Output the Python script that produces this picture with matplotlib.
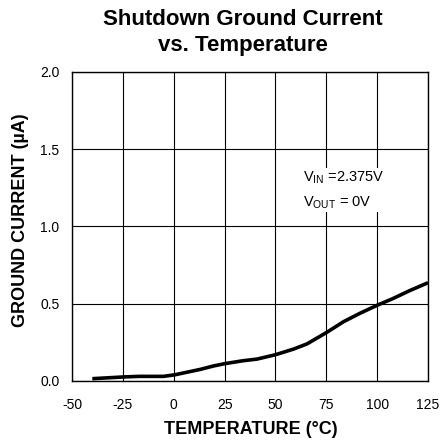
import numpy as np
import matplotlib
matplotlib.use("Agg")
import matplotlib.pyplot as plt

plt.rcParams['font.family'] = ['Liberation Sans', 'DejaVu Sans']

temp = [-40, -25, -17, -5, 0.5, 13, 19.5, 25, 34, 41, 50, 59, 65.5, 75, 83.5, 91.5, 100, 108, 116, 125]
i_gnd = [0.015, 0.026, 0.03, 0.03, 0.04, 0.075, 0.097, 0.112, 0.131, 0.142, 0.17, 0.207, 0.24, 0.313,
         0.384, 0.438, 0.49, 0.535, 0.585, 0.636]

xticks = [-50, -25, 0, 25, 50, 75, 100, 125]
yticks = [0.0, 0.5, 1.0, 1.5, 2.0]

fig = plt.figure(figsize=(4.4, 4.45), dpi=100)
ax = fig.add_axes([72 / 440, 1 - 381 / 445, 356 / 440, 309 / 445])

ax.plot(temp, i_gnd, color="black", linewidth=2.6, solid_capstyle="butt", zorder=3)

ax.set_xlim(-50, 125)
ax.set_ylim(0, 2.0)
ax.set_xticks(xticks)
ax.set_xticklabels([str(t) for t in xticks])
ax.set_yticks(yticks)
ax.set_yticklabels(["%.1f" % v for v in yticks])
ax.tick_params(length=0, labelsize=10)
ax.tick_params(axis="x", pad=12.5)
ax.tick_params(axis="y", pad=9)
ax.grid(True, color="black", linewidth=0.8)
for s in ax.spines.values():
    s.set_linewidth(1.0)

ax.set_xlabel("TEMPERATURE (°C)", fontsize=13, fontweight="bold", va="center")
ax.xaxis.set_label_coords(0.503, -0.158)
ax.set_ylabel("GROUND CURRENT (µA)", fontsize=13, fontweight="bold", va="center")
ax.yaxis.set_label_coords(-0.146, 0.521)

fig.text(0.551, 1 - 25 / 445, "Shutdown Ground Current", ha="center", va="baseline",
         fontsize=16, fontweight="bold")
fig.text(0.551, 1 - 51 / 445, "vs. Temperature", ha="center", va="baseline",
         fontsize=16, fontweight="bold")

ax.text(63.6, 1.237, "V$_\\mathregular{IN}$ =2.375V\nV$_\\mathregular{OUT}$ = 0V", ha="left", va="center",
        fontsize=10.5, linespacing=1.7, zorder=4,
        bbox=dict(facecolor="white", edgecolor="none", pad=1))

fig.savefig("out.png", dpi=100)
